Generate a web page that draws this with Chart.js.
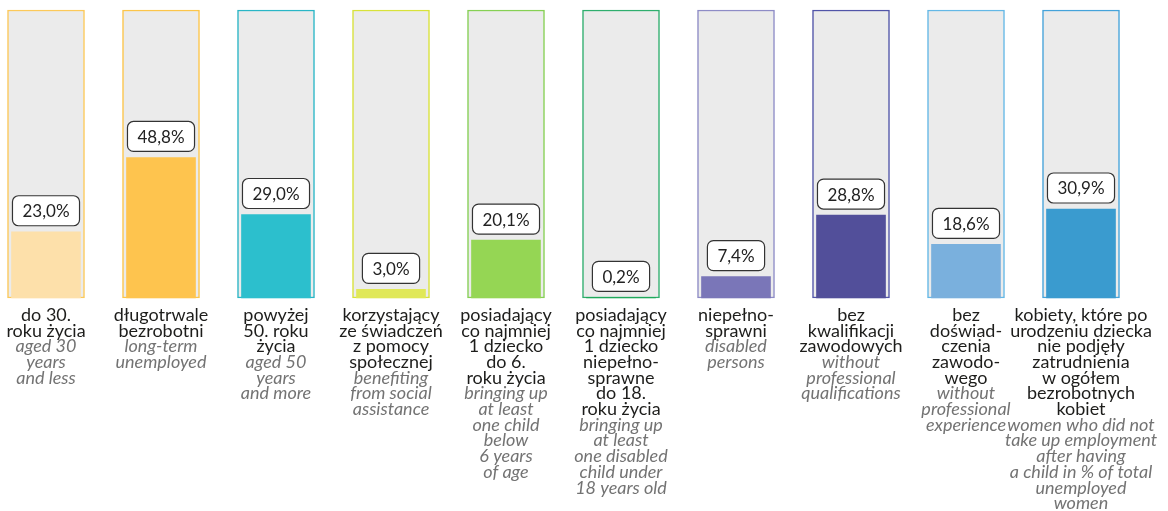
<!DOCTYPE html>
<html>
<head>
<meta charset="utf-8">
<script src="https://cdn.jsdelivr.net/npm/chart.js@4/dist/chart.umd.min.js"></script>
<style>
    html, body { margin: 0; padding: 0; background: #fff; }
    #wrap { width: 1168px; height: 511px; position: relative; }
</style>
</head>
<body>
<div id="wrap"><canvas id="chart"></canvas></div>
<script>
// Unemployed groups — share in % (Polish label + English translation)
const values = [23.0, 48.8, 29.0, 3.0, 20.1, 0.2, 7.4, 28.8, 18.6, 30.9];
const scaleMax = 100;

const polishLines = [
    ['do 30.', 'roku życia'],
    ['długotrwale', 'bezrobotni'],
    ['powyżej', '50. roku', 'życia'],
    ['korzystający', 'ze świadczeń', 'z pomocy', 'społecznej'],
    ['posiadający', 'co najmniej', '1 dziecko', 'do 6.', 'roku życia'],
    ['posiadający', 'co najmniej', '1 dziecko', 'niepełno-', 'sprawne', 'do 18.', 'roku życia'],
    ['niepełno-', 'sprawni'],
    ['bez', 'kwalifikacji', 'zawodowych'],
    ['bez', 'doświad-', 'czenia', 'zawodo-', 'wego'],
    ['kobiety, które po', 'urodzeniu dziecka', 'nie podjęły', 'zatrudnienia', 'w ogółem', 'bezrobotnych', 'kobiet']
];

const englishLines = [
    ['aged 30', 'years', 'and less'],
    ['long-term', 'unemployed'],
    ['aged 50', 'years', 'and more'],
    ['benefiting', 'from social', 'assistance'],
    ['bringing up', 'at least', 'one child', 'below', '6 years', 'of age'],
    ['bringing up', 'at least', 'one disabled', 'child under', '18 years old'],
    ['disabled', 'persons'],
    ['without', 'professional', 'qualifications'],
    ['without', 'professional', 'experience'],
    ['women who did not', 'take up employment', 'after having', 'a child in % of total', 'unemployed', 'women']
];

const categories = polishLines.map(l => l.join(' '));

const fillColors = ['#fde0aa', '#fec44e', '#2cbfcd', '#e0e858', '#95d654', '#1fa85a', '#7a76b8', '#524f9a', '#7ab0dd', '#3a9bcf'];
const frameColors = ['#fcc95a', '#fcc54a', '#2ab6c6', '#d8e23a', '#86d054', '#2fae6e', '#8e8cc6', '#5155a8', '#64b8e6', '#45a3da'];

const FONT = 'Lato, "Open Sans", sans-serif';

// Percent boxes above each value bar
const valueBoxes = {
    id: 'valueBoxes',
    afterDatasetsDraw(chart) {
        const ctx = chart.ctx;
        const meta = chart.getDatasetMeta(0);
        ctx.save();
        ctx.font = `17px ${FONT}`;
        ctx.textAlign = 'center';
        ctx.textBaseline = 'middle';
        meta.data.forEach((bar, i) => {
            const txt = values[i].toFixed(1).replace('.', ',') + '%';
            const w = ctx.measureText(txt).width + 20;
            const h = 30;
            const x = bar.x - w / 2;
            const y = bar.y - 6 - h;
            ctx.beginPath();
            ctx.roundRect(x, y, w, h, 6);
            ctx.fillStyle = '#fff';
            ctx.fill();
            ctx.lineWidth = 1.2;
            ctx.strokeStyle = '#333';
            ctx.stroke();
            ctx.fillStyle = '#222';
            ctx.fillText(txt, bar.x, y + h / 2 + 1);
        });
        ctx.restore();
    }
};

// Two-language category labels under the bars
const categoryLabels = {
    id: 'categoryLabels',
    afterDraw(chart) {
        const ctx = chart.ctx;
        const xScale = chart.scales.x;
        const lineH = 15.7;
        ctx.save();
        ctx.textAlign = 'center';
        ctx.textBaseline = 'middle';
        categories.forEach((c, i) => {
            const x = xScale.getPixelForValue(i);
            let y = chart.chartArea.bottom + 17;
            ctx.font = `18px ${FONT}`;
            ctx.fillStyle = '#1d1d1b';
            polishLines[i].forEach(line => {
                ctx.fillText(line, x, y);
                y += lineH;
            });
            ctx.font = `italic 18px ${FONT}`;
            ctx.fillStyle = '#737373';
            englishLines[i].forEach(line => {
                ctx.fillText(line, x, y);
                y += lineH;
            });
        });
        ctx.restore();
    }
};

const ctx = document.getElementById('chart').getContext('2d');

new Chart(ctx, {
    type: 'bar',
    data: {
        labels: categories,
        datasets: [
            {
                label: 'Value',
                data: values,
                backgroundColor: fillColors,
                barThickness: 69,
                grouped: false,
                order: 0,
                clip: false
            },
            {
                label: 'Scale',
                data: values.map(() => scaleMax),
                backgroundColor: '#ebebeb',
                borderColor: frameColors,
                borderWidth: 1.5,
                borderSkipped: false,
                barThickness: 77,
                grouped: false,
                order: 1,
                clip: false
            }
        ]
    },
    options: {
        responsive: true,
        maintainAspectRatio: false,
        animation: false,
        layout: { padding: { left: 46, right: 87, top: 10, bottom: 213 } },
        plugins: {
            legend: { display: false },
            tooltip: { enabled: false }
        },
        scales: {
            x: { display: false, offset: false },
            y: { display: false, min: 0, max: scaleMax }
        }
    },
    plugins: [valueBoxes, categoryLabels]
});
</script>
</body>
</html>
